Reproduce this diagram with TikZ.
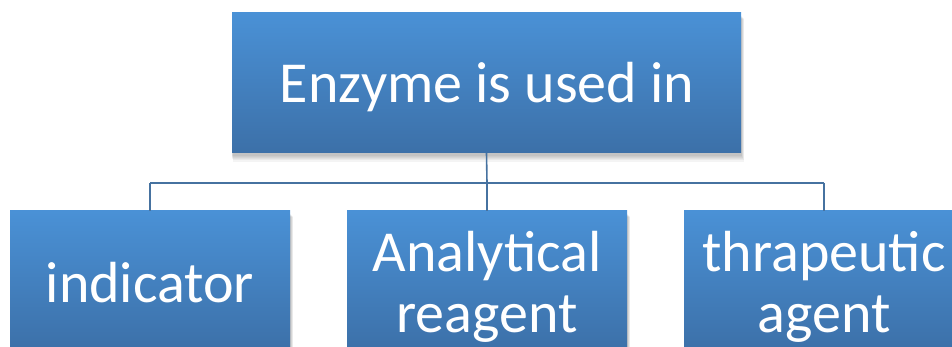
\documentclass[tikz,border=0pt]{standalone}
\usepackage{fontspec}
\setmainfont{Carlito}
\usetikzlibrary{calc}
\definecolor{boxtop}{RGB}{74,145,214}
\definecolor{boxbot}{RGB}{60,112,168}
\definecolor{linkblue}{RGB}{70,114,160}
\tikzset{
  card/.style={rectangle, anchor=north west, inner sep=0pt, outer sep=0pt,
    top color=boxtop, bottom color=boxbot, draw=none},
  label/.style={text=white, anchor=base, inner sep=0pt,
    font=\fontsize{58}{64}\selectfont},
  link/.style={draw=linkblue, line width=1.6pt}
}
% soft drop shadow under a box given by its corners
\newcommand{\softshadow}[2]{%
  \foreach \k in {1,...,6}{%
    \fill[black, opacity=0.045] ($(#1)+(-0.5+0.2*\k,3+0.5*\k)$) rectangle ($(#2)+(0.5+0.4*\k,2+1.1*\k)$);
  }%
}
\begin{document}
\begin{tikzpicture}[x=1pt,y=-1pt]
\useasboundingbox (0,0) rectangle (952,347);
\clip (0,0) rectangle (952,347);

% branch points of the connectors
\coordinate (hub) at (487,183);
\coordinate (hl) at (150,183);
\coordinate (hr) at (824,183);

% shadows
\softshadow{232,13}{741,153}
\softshadow{10,211}{290,351}
\softshadow{347,211}{627,351}
\softshadow{684,211}{963,351}

% boxes
\node[card, minimum width=509pt, minimum height=140pt] (root) at (232,13) {};
\node[card, minimum width=280pt, minimum height=140pt] (ind) at (10,211) {};
\node[card, minimum width=280pt, minimum height=140pt] (ana) at (347,211) {};
\node[card, minimum width=279pt, minimum height=140pt] (thr) at (684,211) {};

% texts
\node[label] (roott) at (487,103) {Enzyme is used in};
\node[label] (indt) at (150,302) {indicator};
\node[label] (anat1) at (487,271) {Analytical};
\node[label] (anat2) at (487,332) {reagent};
\node[label] (thrt1) at (824,271) {thrapeutic};
\node[label] (thrt2) at (824,332) {agent};

% connectors
\draw[link] (root.south) -- (hub);
\draw[link] (hl) -- (hr);
\draw[link] (hl) -- (hl |- ind.north);
\draw[link] (hub) -- (hub |- ana.north);
\draw[link] (hr) -- (hr |- thr.north);
\end{tikzpicture}
\end{document}
